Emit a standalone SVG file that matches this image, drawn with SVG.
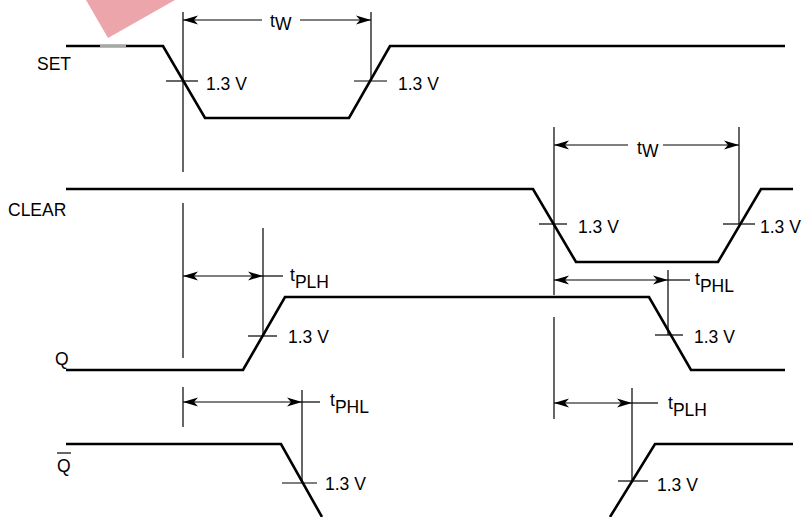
<svg xmlns="http://www.w3.org/2000/svg" width="806" height="517" viewBox="0 0 806 517">
<style>
.sig{fill:none;stroke:#000;stroke-width:2.6;stroke-linejoin:miter}
.thin{fill:none;stroke:#000;stroke-width:1.2}
.dim{fill:none;stroke:#000;stroke-width:1.2}
text{font-family:"Liberation Sans",Arial,sans-serif;font-size:17.5px;fill:#000}
</style>
<defs>
<marker id="ah" viewBox="0 0 15 10" refX="15" refY="5" markerWidth="15" markerHeight="10" markerUnits="userSpaceOnUse" orient="auto-start-reverse">
<path d="M0,0.5 L15,5 L0,9.5 L4,5 z" fill="#000"/>
</marker>
</defs>
<rect width="806" height="517" fill="#fff"/>
<polygon points="86,0 108,38 175,0" fill="#eca6ab"/>

<g id="SET">
<polyline class="sig" points="66,46 163,46 205,118 349,118 390,46 785,46"/>
<line x1="100" y1="46" x2="126" y2="46" stroke="#a8a8a8" stroke-width="2.6"/>
<text x="37" y="70">SET</text>
</g>
<g id="CLEAR">
<polyline class="sig" points="66,189 533,189 576,262 718,262 761,189 793,189"/>
<text x="8" y="216">CLEAR</text>
</g>
<g id="Q">
<polyline class="sig" points="66,370 243,370 285,297 649,297 691,370 785,370"/>
<text x="55" y="365">Q</text>
</g>
<g id="QBAR">
<polyline class="sig" points="66,444 281,444 322,517"/>
<polyline class="sig" points="610,517 655,444 793,444"/>
<text x="57" y="472">Q</text>
<line class="thin" x1="57" y1="453" x2="71" y2="453"/>
</g>

<g id="connectors">
<line class="thin" x1="183" y1="12" x2="183" y2="172"/>
<line class="thin" x1="183" y1="203" x2="183" y2="358"/>
<line class="thin" x1="183" y1="387" x2="183" y2="427"/>
<line class="thin" x1="371" y1="12" x2="371" y2="81"/>
<line class="thin" x1="554" y1="127" x2="554" y2="295"/>
<line class="thin" x1="554" y1="317" x2="554" y2="419"/>
<line class="thin" x1="739" y1="127" x2="739" y2="224"/>
<line class="thin" x1="263" y1="228" x2="263" y2="336"/>
<line class="thin" x1="668" y1="270" x2="668" y2="335"/>
<line class="thin" x1="302" y1="390" x2="302" y2="483"/>
<line class="thin" x1="632" y1="388" x2="632" y2="481"/>
<line class="thin" x1="166" y1="81" x2="198" y2="81"/>
<line class="thin" x1="354" y1="81" x2="387" y2="81"/>
<line class="thin" x1="539" y1="224" x2="567" y2="224"/>
<line class="thin" x1="723" y1="224" x2="755" y2="224"/>
<line class="thin" x1="248" y1="336" x2="277" y2="336"/>
<line class="thin" x1="655" y1="335" x2="683" y2="335"/>
<line class="thin" x1="282" y1="483" x2="317" y2="483"/>
<line class="thin" x1="618" y1="481" x2="648" y2="481"/>
<line class="dim" x1="183" y1="20" x2="262" y2="20" marker-start="url(#ah)"/>
<line class="dim" x1="300" y1="20" x2="371" y2="20" marker-end="url(#ah)"/>
<line class="dim" x1="554" y1="145" x2="628" y2="145" marker-start="url(#ah)"/>
<line class="dim" x1="663" y1="145" x2="739" y2="145" marker-end="url(#ah)"/>
<line class="dim" x1="183" y1="276" x2="263" y2="276" marker-start="url(#ah)" marker-end="url(#ah)"/>
<line class="thin" x1="263" y1="276" x2="283" y2="276"/>
<line class="dim" x1="554" y1="280" x2="668" y2="280" marker-start="url(#ah)" marker-end="url(#ah)"/>
<line class="thin" x1="668" y1="280" x2="690" y2="280"/>
<line class="dim" x1="183" y1="402" x2="302" y2="402" marker-start="url(#ah)" marker-end="url(#ah)"/>
<line class="thin" x1="302" y1="402" x2="320" y2="402"/>
<line class="dim" x1="554" y1="403" x2="632" y2="403" marker-start="url(#ah)" marker-end="url(#ah)"/>
<line class="thin" x1="632" y1="403" x2="658" y2="403"/>
</g>

<g id="labels">
<text x="206" y="90">1.3 V</text>
<text x="398" y="90">1.3 V</text>
<text x="578" y="233">1.3 V</text>
<text x="760" y="233">1.3 V</text>
<text x="288" y="343">1.3 V</text>
<text x="694" y="343">1.3 V</text>
<text x="325" y="490">1.3 V</text>
<text x="657" y="491">1.3 V</text>
<text x="270" y="27">t<tspan dy="3">W</tspan></text>
<text x="637" y="154">t<tspan dy="3">W</tspan></text>
<text x="290" y="281">t<tspan dy="7">PLH</tspan></text>
<text x="695" y="285">t<tspan dy="7">PHL</tspan></text>
<text x="330" y="406">t<tspan dy="7">PHL</tspan></text>
<text x="668" y="409">t<tspan dy="7">PLH</tspan></text>
</g>
</svg>
